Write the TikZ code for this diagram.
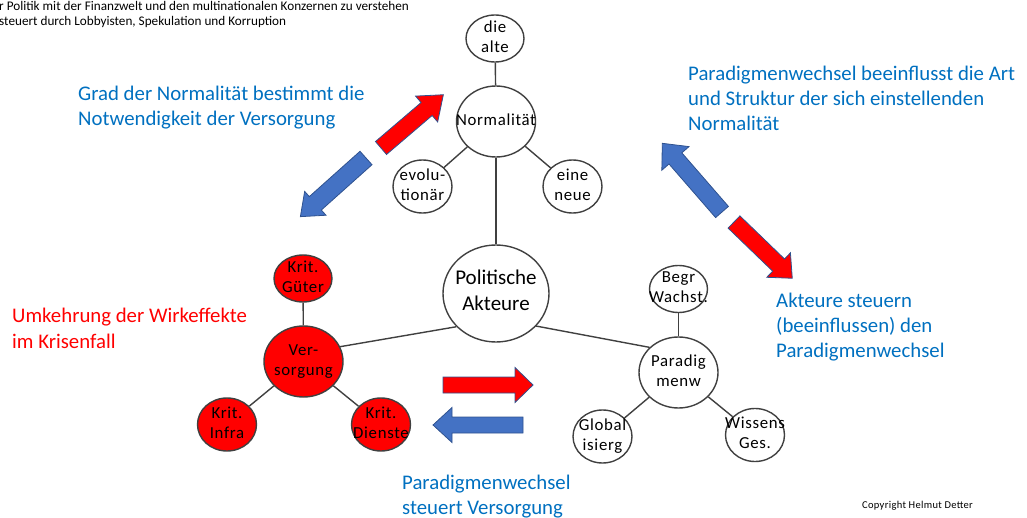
\documentclass[tikz,border=0pt]{standalone}
\usepackage{fontspec}
\setmainfont{Carlito}
\usetikzlibrary{shapes.geometric}
\definecolor{lineg}{HTML}{404040}
\definecolor{txtblue}{HTML}{0070C0}
\definecolor{arrline}{HTML}{2F528F}
\definecolor{arrblue}{HTML}{4472C4}
\newcommand\zw[1]{\makebox[0pt]{\smash{\raisebox{-4pt}{\begin{tabular}[c]{@{}c@{}}#1\end{tabular}}}}}
\newcommand\lines[1]{\begin{tabular}[t]{@{}l@{}}#1\end{tabular}}
\newcommand\nfont{\fontsize{16.8}{19.8}\selectfont\addfontfeature{LetterSpace=4}}
\tikzset{
  bub/.style={ellipse, draw=lineg, line width=1.4pt, fill=white, inner sep=0pt, font=\nfont},
  hubn/.style={bub, minimum width=79pt, minimum height=71pt},
  topn/.style={bub, minimum width=58pt, minimum height=47pt},
  satn/.style={bub, minimum width=59pt, minimum height=53pt},
  conn/.style={draw=lineg, line width=1.4pt},
  btxt/.style={text=txtblue, font=\fontsize{20.8}{25}\selectfont, inner sep=0pt, anchor=base west},
  rtxt/.style={btxt, text=red},
  arrR/.style={draw=arrline, line width=0.8pt, fill=red},
  arrB/.style={draw=arrline, line width=0.8pt, fill=arrblue},
  pics/barrow/.style n args={4}{code={
    \path[pic actions] (0,-#2/2) -- (#1-#4,-#2/2) -- (#1-#4,-#3/2) -- (#1,0)
      -- (#1-#4,#3/2) -- (#1-#4,#2/2) -- (0,#2/2) -- cycle;
  }}
}
\begin{document}
\begin{tikzpicture}[x=1pt,y=-1pt]
\useasboundingbox (0,0) rectangle (1027,518);
% bubbles
\node[topn] (alte) at (495,38.5) {\zw{die\\alte}};
\node[hubn] (norm) at (496,121.5) {\zw{Normalität}};
\node[satn] (evo) at (422.5,186.5) {\zw{evolu-\\tionär}};
\node[satn] (neue) at (572.5,186.5) {\zw{eine\\neue}};
\node[bub, minimum width=106pt, minimum height=97pt, font=\fontsize{21}{25.5}\selectfont] (pol) at (496,293.5) {\zw{Politische\\Akteure}};
\node[hubn, fill=red] (vers) at (303.5,361.5) {\zw{Ver-\\sorgung}};
\node[topn, fill=red] (gueter) at (303,278.5) {\zw{Krit.\\Güter}};
\node[satn, fill=red] (infra) at (227,424.5) {\zw{Krit.\\Infra}};
\node[satn, fill=red] (dienste) at (381,424.5) {\zw{Krit.\\Dienste}};
\node[hubn] (par) at (678.5,372.5) {\zw{Paradig\\menw}};
\node[topn] (begr) at (678.5,289) {\zw{Begr\\Wachst.}};
\node[satn] (glob) at (602.5,436.5) {\zw{Global\\isierg}};
\node[satn] (wiss) at (755,435) {\zw{Wissens\\Ges.}};
% connectors
\draw[conn] (alte) -- (norm);
\draw[conn] (norm) -- (evo);
\draw[conn] (norm) -- (neue);
\draw[conn] (norm) -- (pol);
\draw[conn] (vers.22) -- (pol.220);
\draw[conn] (pol.-39) -- (par.139);
\draw[conn] (vers) -- (gueter);
\draw[conn] (vers) -- (infra);
\draw[conn] (vers) -- (dienste);
\draw[conn] (par) -- (begr);
\draw[conn] (par) -- (glob);
\draw[conn] (par) -- (wiss);
% block arrows
\pic[arrR, rotate=40.5] (a1) at (381,148) {barrow={82}{17}{34}{22}};
\pic[arrB, rotate=221.8] (a2) at (366,158) {barrow={88}{18}{32}{20}};
\pic[arrB, rotate=131] (a3) at (722,212) {barrow={91}{17}{36}{20}};
\pic[arrR, rotate=-44] (a4) at (734,222) {barrow={81}{17}{34}{19}};
\pic[arrR] (a5) at (443,385) {barrow={90}{16}{35}{18}};
\pic[arrB, rotate=180] (a6) at (523,425) {barrow={90}{16}{35}{19}};
% texts
\node[anchor=base west, inner sep=0pt, font=\fontsize{13.2}{14.3}\selectfont] (top) at (-1,11) {\lines{r Politik mit der Finanzwelt und den multinationalen Konzernen zu verstehen\\steuert durch Lobbyisten, Spekulation und Korruption}};
\node[btxt] (t1) at (78,101) {\lines{Grad der Normalität bestimmt die\\Notwendigkeit der Versorgung}};
\node[btxt] (t2) at (688,81) {\lines{Paradigmenwechsel beeinflusst die Art\\und Struktur der sich einstellenden\\Normalität}};
\node[btxt] (t3) at (776,307.5) {\lines{Akteure steuern\\(beeinflussen) den\\Paradigmenwechsel}};
\node[btxt] (t4) at (402,489) {\lines{Paradigmenwechsel\\steuert Versorgung}};
\node[rtxt] (t5) at (12,323) {\lines{Umkehrung der Wirkeffekte\\im Krisenfall}};
\node[anchor=base west, inner sep=0pt, font=\fontsize{10.5}{12}\selectfont\addfontfeature{LetterSpace=3}] (copy) at (862,508.5) {Copyright Helmut Detter};
\end{tikzpicture}
\end{document}
